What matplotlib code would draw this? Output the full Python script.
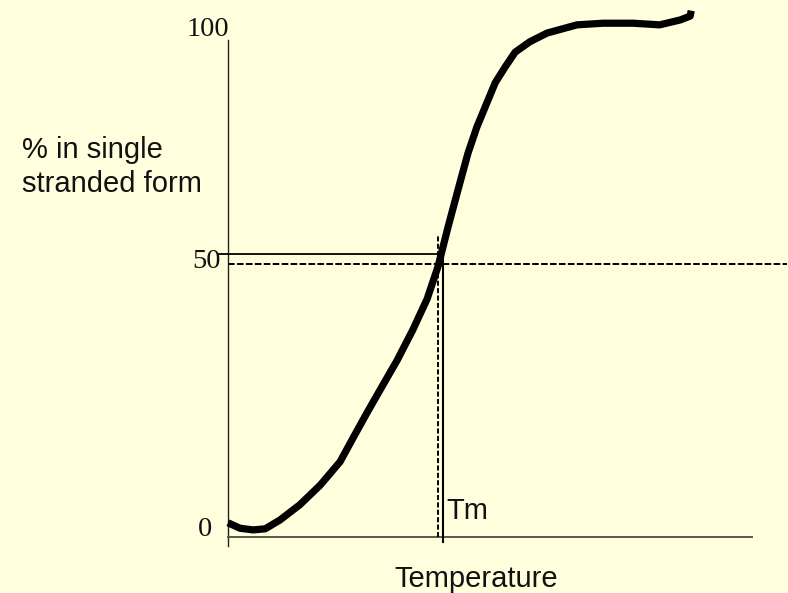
import matplotlib
matplotlib.use("Agg")
import matplotlib.pyplot as plt

# melting curve (temperature in arbitrary units, % single stranded)
temperature = [0.0, 2.3, 4.8, 7.1, 9.9, 13.7, 17.6, 21.4, 23.9, 26.5, 29.0, 32.3,
               35.3, 38.0, 40.1, 42.0, 43.9, 45.8, 47.5, 49.4, 51.0, 52.9, 54.8,
               57.6, 60.9, 66.6, 71.6, 77.3, 82.4, 86.3, 88.2, 88.4]
percent_ss = [2.6, 1.6, 1.3, 1.5, 3.1, 5.9, 9.5, 13.8, 18.2, 22.7, 26.9, 32.4,
              38.0, 43.6, 49.6, 56.8, 63.6, 70.3, 75.1, 79.5, 83.2, 86.1, 88.8,
              90.7, 92.3, 93.8, 94.1, 94.1, 93.8, 94.7, 95.4, 96.4]

tm = 40.1          # melting temperature (dashed guide)
tm_solid = 41.0    # solid guide drawn beside it
half = 50.0
half_solid = 51.8

tick_labels = ["100", "50", "0"]
bg = "#FFFFDD"

W, H = 788, 593
fig = plt.figure(figsize=(W / 100, H / 100), dpi=100)
fig.patch.set_facecolor(bg)
ax = fig.add_axes([0, 0, 1, 1])
ax.set_facecolor(bg)
ax.axis("off")

# pixel -> data scale: 5.24 px per temperature unit, 5.46 px per percent
ax.set_xlim(-228 / 5.24, (W - 228) / 5.24)
ax.set_ylim((537 - H) / 5.46, 537 / 5.46)

# axes lines
ax.plot([0, 0], [-1.6, 91.0], color="#222222", lw=1.0)
ax.plot([0, 100], [0, 0], color="#5a5a4a", lw=1.4)

# guide lines at 50 %
ax.plot([-1.9, 40.6], [half_solid, half_solid], color="black", lw=1.3)
ax.plot([0, 106.7], [half, half], color="black", lw=1.4, dashes=(3.4, 1.2))
ax.plot([tm, tm], [0, 55.5], color="black", lw=1.4, dashes=(2.6, 1.2))
ax.plot([tm_solid, tm_solid], [-0.9, half_solid], color="black", lw=1.5)

# melting curve
ax.plot(temperature, percent_ss, color="black", lw=5.2, solid_capstyle="butt",
        solid_joinstyle="round")

serif = dict(family="Liberation Serif", fontsize=20.5, color="#111111")
sans = dict(family="Liberation Sans", fontsize=21, color="#111111")

def px(x, y):
    return x / W, 1 - y / H

fig.text(*px(229, 30), tick_labels[0], ha="right", va="center", **serif)
fig.text(*px(221, 261), tick_labels[1], ha="right", va="center", **serif)
fig.text(*px(212, 530), tick_labels[2], ha="right", va="center", **serif)

fig.text(*px(22, 158), "% in single", ha="left", va="baseline", **sans)
fig.text(*px(22, 192), "stranded form", ha="left", va="baseline", **sans)
fig.text(*px(446, 519), "Tm", ha="left", va="baseline", **sans)
fig.text(*px(476, 587), "Temperature", ha="center", va="baseline", **sans)

fig.savefig("out.png", dpi=100, facecolor=bg)
